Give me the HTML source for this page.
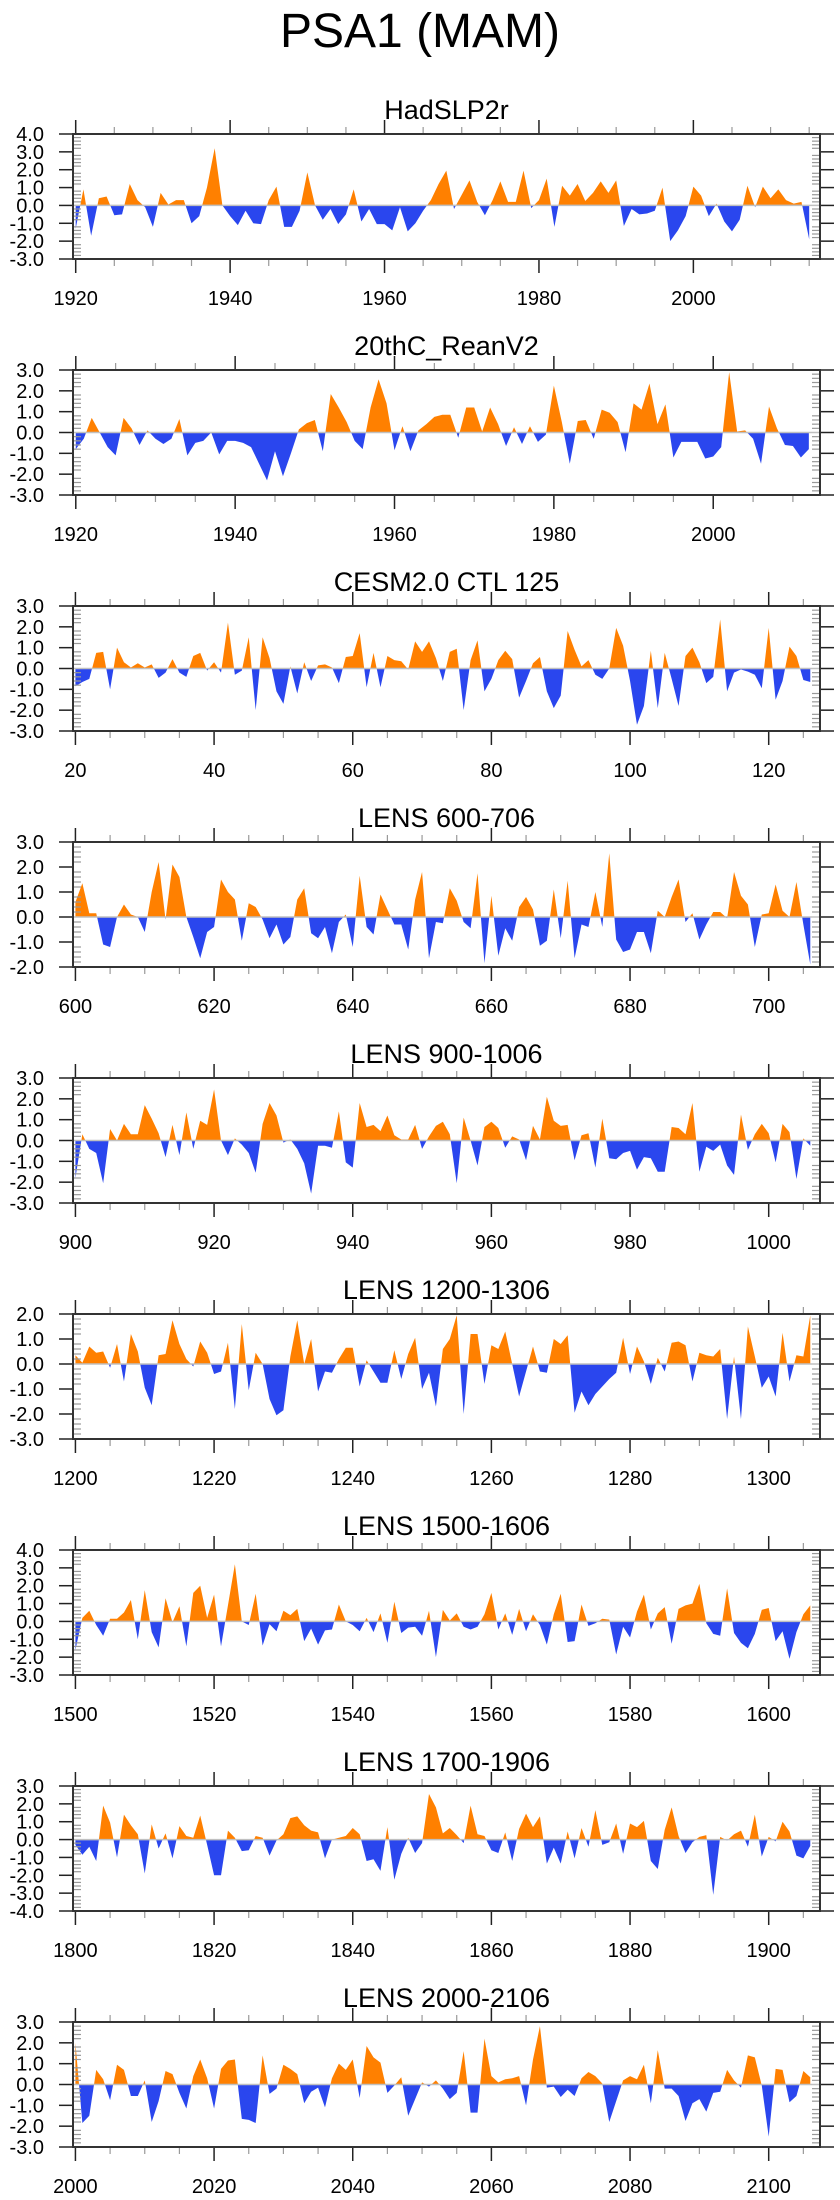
<!DOCTYPE html>
<html><head><meta charset="utf-8"><title>PSA1 (MAM)</title>
<style>
html,body{margin:0;padding:0;background:#fff;}
svg{display:block;font-family:"Liberation Sans",Arial,sans-serif;}
</style></head>
<body>
<svg id="chart" width="840" height="2200" viewBox="0 0 840 2200" xmlns="http://www.w3.org/2000/svg">
<text x="420" y="47" font-size="48" text-anchor="middle" fill="#000">PSA1 (MAM)</text>
</svg>
<script>
const titles = ["HadSLP2r","20thC_ReanV2","CESM2.0 CTL 125","LENS 600-706","LENS 900-1006","LENS 1200-1306","LENS 1500-1606","LENS 1700-1906","LENS 2000-2106"];
const startYears = [1920,1920,20,600,900,1200,1500,1800,2000];
const yMaxs = [4,3,3,3,3,2,4,3,3];
const yMins = [-3,-3,-3,-2,-3,-3,-3,-4,-3];
const xTickLabels = [
 ["1920","1940","1960","1980","2000"],
 ["1920","1940","1960","1980","2000"],
 ["20","40","60","80","100","120"],
 ["600","620","640","660","680","700"],
 ["900","920","940","960","980","1000"],
 ["1200","1220","1240","1260","1280","1300"],
 ["1500","1520","1540","1560","1580","1600"],
 ["1800","1820","1840","1860","1880","1900"],
 ["2000","2020","2040","2060","2080","2100"]];
const s1 = [-1.3,0.9,-1.7,0.4,0.5,-0.55,-0.5,1.2,0.3,-0.1,-1.2,0.7,0.05,0.3,0.3,-1.0,-0.6,1.0,3.2,0.0,-0.6,-1.1,-0.3,-1.0,-1.05,0.3,1.05,-1.2,-1.2,-0.3,1.85,0.0,-0.8,-0.2,-1.05,-0.5,0.9,-0.9,-0.2,-1.05,-1.05,-1.4,-0.1,-1.45,-1.0,-0.3,0.3,1.2,1.95,-0.2,0.6,1.4,0.2,-0.55,0.3,1.35,0.2,0.2,1.95,-0.15,0.3,1.5,-1.2,1.1,0.55,1.2,0.25,0.7,1.35,0.7,1.4,-1.15,-0.2,-0.5,-0.45,-0.3,1.0,-2.0,-1.4,-0.6,1.05,0.55,-0.6,0.1,-0.9,-1.45,-0.8,1.1,-0.1,1.05,0.4,0.9,0.3,0.1,0.2,-1.9];
const s2 = [-0.8,-0.3,0.7,0.0,-0.7,-1.1,0.7,0.2,-0.6,0.1,-0.3,-0.55,-0.3,0.65,-1.1,-0.5,-0.4,0.0,-1.05,-0.4,-0.4,-0.5,-0.7,-1.5,-2.3,-0.9,-2.1,-1.0,0.15,0.45,0.6,-0.9,1.85,1.2,0.5,-0.4,-0.8,1.2,2.55,1.4,-0.85,0.3,-0.9,0.1,0.4,0.75,0.85,0.85,-0.25,1.2,1.2,0.05,1.2,0.4,-0.65,0.25,-0.55,0.3,-0.45,-0.1,2.25,0.5,-1.5,0.55,0.6,-0.3,1.1,0.95,0.5,-0.95,1.4,1.1,2.35,0.4,1.35,-1.2,-0.45,-0.45,-0.45,-1.25,-1.15,-0.7,2.9,0.05,0.1,-0.3,-1.5,1.25,0.2,-0.6,-0.65,-1.2,-0.8];
const s3 = [-0.85,-0.65,-0.5,0.75,0.8,-1.0,1.0,0.3,0.05,0.25,0.05,0.2,-0.45,-0.2,0.45,-0.2,-0.4,0.6,0.75,-0.1,0.3,-0.2,2.2,-0.3,-0.1,1.5,-2.0,1.5,0.5,-1.1,-1.7,0.1,-1.2,0.3,-0.6,0.15,0.2,0.05,-0.7,0.55,0.6,1.7,-0.9,0.75,-0.9,0.6,0.4,0.35,-0.05,1.3,0.8,1.3,0.5,-0.6,0.8,0.95,-2.0,0.4,1.35,-1.1,-0.5,0.4,0.85,0.45,-1.4,-0.6,0.25,0.55,-1.1,-1.9,-1.3,1.8,0.9,0.1,0.4,-0.3,-0.5,0.0,1.95,1.1,-0.6,-2.7,-1.8,0.85,-1.9,0.75,-0.5,-1.8,0.6,1.0,0.3,-0.7,-0.4,2.35,-1.1,-0.2,-0.05,-0.15,-0.3,-0.95,1.95,-1.5,-0.6,1.05,0.6,-0.55,-0.65];
const s4 = [0.6,1.35,0.15,0.15,-1.1,-1.2,0.0,0.5,0.1,0.0,-0.6,1.0,2.2,-0.1,2.1,1.6,0.0,-0.8,-1.65,-0.6,-0.4,1.5,1.0,0.7,-0.95,0.55,0.4,-0.1,-0.85,-0.3,-1.1,-0.8,0.7,1.15,-0.65,-0.85,-0.4,-1.45,-0.2,0.1,-1.2,1.65,-0.4,-0.7,0.9,0.3,-0.3,-0.3,-1.3,0.7,1.8,-1.65,-0.2,-0.25,1.15,0.65,-0.2,-0.45,1.75,-1.85,0.85,-1.55,-0.45,-0.95,0.4,0.8,0.3,-1.15,-0.95,1.1,-0.85,1.45,-1.65,-0.3,-0.4,1.0,-0.4,2.55,-0.9,-1.4,-1.3,-0.6,-0.6,-1.45,0.25,0.0,0.8,1.5,-0.2,0.15,-0.9,-0.3,0.2,0.2,-0.05,1.8,0.85,0.5,-1.2,0.1,0.15,1.3,0.25,0.0,1.4,-0.3,-1.9];
const s5 = [-1.8,0.3,-0.4,-0.6,-2.05,0.55,0.0,0.8,0.3,0.3,1.7,1.05,0.35,-0.8,0.75,-0.7,1.35,-0.4,0.95,0.75,2.45,0.0,-0.7,0.1,-0.2,-0.6,-1.55,0.8,1.8,1.2,-0.1,0.05,-0.4,-1.1,-2.55,-0.25,-0.25,-0.35,1.4,-1.05,-1.3,1.8,0.65,0.75,0.45,1.2,0.25,0.05,0.05,0.75,-0.4,0.2,0.7,0.9,0.3,-2.05,1.1,0.0,-1.2,0.65,0.9,0.6,-0.35,0.2,0.05,-0.95,0.7,0.05,2.1,0.95,0.7,0.75,-0.95,0.25,0.35,-1.3,1.05,-0.85,-0.9,-0.6,-0.5,-1.4,-0.8,-0.85,-1.5,-1.5,0.65,0.6,0.3,1.8,-1.5,-0.3,-0.5,-0.2,-1.2,-1.65,1.25,-0.45,0.3,0.8,0.35,-1.05,0.8,0.4,-1.85,0.1,-0.25];
const s6 = [0.35,0.05,0.7,0.45,0.5,-0.15,0.8,-0.7,1.2,0.5,-0.95,-1.65,0.35,0.4,1.75,0.8,0.2,-0.1,0.9,0.45,-0.4,-0.3,0.85,-1.8,1.6,-1.05,0.45,0.0,-1.4,-2.05,-1.85,0.3,1.75,0.0,1.0,-1.1,-0.3,-0.35,0.2,0.65,0.65,-0.9,0.15,-0.3,-0.75,-0.75,0.55,-0.6,0.4,1.05,-1.0,-0.35,-1.7,0.6,1.0,1.95,-2.0,1.2,1.2,-0.8,0.75,0.6,1.3,0.0,-1.3,-0.3,0.7,-0.3,-0.35,1.0,0.8,1.15,-1.95,-1.1,-1.65,-1.2,-0.9,-0.6,-0.35,1.05,-0.4,0.7,0.1,-0.8,0.25,-0.3,0.85,0.9,0.75,-0.7,0.45,0.35,0.3,0.6,-2.2,0.3,-2.2,1.5,0.3,-0.95,-0.5,-1.3,1.25,-0.7,0.35,0.3,1.95];
const s7 = [-1.6,0.2,0.6,-0.2,-0.8,0.15,0.15,0.5,1.2,-1.0,1.75,-0.6,-1.45,1.3,-0.05,0.85,-1.4,1.6,2.0,0.2,1.5,-1.4,0.9,3.2,0.0,-0.2,1.55,-1.35,-0.15,-0.55,0.6,0.35,0.7,-1.1,-0.4,-1.3,-0.5,-0.45,0.95,0.0,-0.2,-0.55,0.2,-0.6,0.45,-1.2,1.1,-0.65,-0.35,-0.3,-0.8,0.6,-2.0,0.65,0.05,0.45,-0.3,-0.45,-0.3,0.4,1.6,-0.45,0.45,-0.75,0.7,-0.55,0.4,-0.2,-1.3,0.4,1.55,-1.15,-1.1,0.95,-0.25,-0.1,0.15,0.1,-1.85,-0.3,-0.9,0.55,1.5,-0.45,0.45,0.8,-1.25,0.7,0.9,1.0,2.1,-0.1,-0.7,-0.8,1.85,-0.65,-1.2,-1.5,-0.7,0.65,0.75,-1.1,-0.55,-2.1,-0.6,0.4,0.9];
const s8 = [-0.3,-0.85,-0.4,-1.2,1.9,0.95,-1.0,1.4,0.8,0.3,-1.9,0.85,-0.5,0.35,-1.05,0.75,0.2,0.1,1.35,-0.3,-2.0,-2.0,0.5,0.1,-0.65,-0.6,0.2,0.1,-0.9,-0.05,0.3,1.2,1.3,0.8,0.5,0.4,-1.05,0.0,0.1,0.2,0.65,0.3,-1.2,-1.1,-1.75,0.7,-2.25,-0.8,0.1,-0.75,-0.2,2.55,1.8,0.35,0.65,0.25,-0.2,1.9,0.3,0.2,-0.6,-0.75,0.4,-1.2,0.6,1.45,0.7,1.3,-1.35,-0.45,-1.35,0.45,-1.05,0.65,-0.4,1.65,-0.3,-0.15,0.9,-0.8,0.9,0.7,1.05,-1.2,-1.65,0.55,1.8,0.2,-0.75,-0.15,0.15,0.25,-3.1,0.15,-0.05,0.3,0.5,-0.4,1.4,-0.95,0.15,-0.1,1.0,0.45,-0.9,-1.05,-0.35];
const s9 = [2.0,-1.85,-1.5,0.7,0.25,-0.75,0.95,0.7,-0.55,-0.55,0.2,-1.8,-0.8,0.65,0.5,-0.4,-1.15,0.4,1.2,0.3,-1.15,0.75,1.15,1.2,-1.65,-1.7,-1.85,1.4,-0.45,-0.2,0.95,0.75,0.5,-0.9,-0.35,-0.15,-1.1,0.3,1.0,0.7,1.2,-0.65,1.85,1.3,1.05,-0.4,-0.05,0.35,-1.5,-0.7,0.1,-0.1,0.2,-0.2,-0.7,-0.4,1.6,-1.35,-1.35,2.2,0.4,0.1,0.25,0.3,0.4,-1.0,1.2,2.8,-0.15,-0.1,-0.6,-0.25,-0.55,0.3,0.6,0.4,0.05,-1.8,-0.8,0.2,0.4,0.25,0.95,-0.9,1.65,-0.2,-0.2,-0.55,-1.75,-0.9,-0.7,-1.3,-0.4,-0.35,0.7,0.2,-0.15,1.4,1.3,-0.05,-2.5,0.75,0.7,-0.85,-0.55,0.65,0.35];
const seriesList = [s1,s2,s3,s4,s5,s6,s7,s8,s9];

const NS = "http://www.w3.org/2000/svg";
const svg = document.getElementById('chart');
const FL = 73, FR = 820, FH = 125, PITCH = 236, FT0 = 134;
function mk(tag, attrs, parent){ const e=document.createElementNS(NS,tag); for(const k in attrs) e.setAttribute(k,attrs[k]); (parent||svg).appendChild(e); return e; }

seriesList.forEach((vals, p) => {
  const top = FT0 + PITCH*p, bot = top + FH;
  const x0 = startYears[p], n = vals.length;
  const xmin = x0 - 0.35, xmax = x0 + n - 1 + 1.4;
  const ymax = yMaxs[p], ymin = yMins[p];
  const sx = v => FL + (v - xmin) / (xmax - xmin) * (FR - FL);
  const sy = v => top + (ymax - v) / (ymax - ymin) * FH;
  const g = mk('g', {});
  
  
  const t = mk('text', {x: (FL+FR)/2, y: top-15, 'font-size': 27, 'text-anchor': 'middle', fill: '#000'}, g);
  
  
  t.textContent = titles[p];
  const z = sy(0);
  const defs = mk('defs', {}, g);
  const cpA = mk('clipPath', {id: 'ca'+p}, defs);
  mk('rect', {x: FL, y: top, width: FR-FL, height: z-top}, cpA);
  const cpB = mk('clipPath', {id: 'cb'+p}, defs);
  mk('rect', {x: FL, y: z, width: FR-FL, height: bot-z}, cpB);
  let d = 'M' + sx(x0) + ',' + z;
  vals.forEach((v,i) => { d += ' L' + sx(x0+i).toFixed(2) + ',' + sy(v).toFixed(2); });
  d += ' L' + sx(x0+n-1) + ',' + z + ' Z';
  const pa = mk('path', {d: d, fill: '#ff8000', 'clip-path': 'url(#ca'+p+')'}, g);
  
  
  const pb = mk('path', {d: d, fill: '#2a46ee', 'clip-path': 'url(#cb'+p+')'}, g);
  
  
  const zl = mk('line', {x1: FL, x2: FR, y1: z, y2: z, stroke: '#c0c0c0', 'stroke-width': 1.5}, g);
  
  
  // y ticks
  for (let k = Math.round(ymin*5); k <= Math.round(ymax*5); k++) {
    const v = k/5, y = sy(v);
    if (k % 5 === 0) {
      mk('line', {x1: FL-14, x2: FL, y1: y, y2: y, stroke: '#222', 'stroke-width': 1.5}, g);
      mk('line', {x1: FR, x2: FR+14, y1: y, y2: y, stroke: '#222', 'stroke-width': 1.5}, g);
      const lb = mk('text', {x: 44, y: y+7, 'font-size': 20, 'text-anchor': 'end', fill: '#000'}, g);
      
      
      lb.textContent = v.toFixed(1);
    } else {
      mk('line', {x1: FL, x2: FL+8, y1: y, y2: y, stroke: '#999', 'stroke-width': 1.2}, g);
      mk('line', {x1: FR-8, x2: FR, y1: y, y2: y, stroke: '#999', 'stroke-width': 1.2}, g);
    }
  }
  // x ticks
  const first = Math.ceil(xmin/5)*5;
  for (let yr = first; yr <= xmax; yr += 5) {
    const x = sx(yr);
    if (yr % 20 === 0) {
      mk('line', {x1: x, x2: x, y1: top-14, y2: top, stroke: '#222', 'stroke-width': 1.5}, g);
      mk('line', {x1: x, x2: x, y1: bot, y2: bot+14, stroke: '#222', 'stroke-width': 1.5}, g);
    } else {
      mk('line', {x1: x, x2: x, y1: top-7, y2: top, stroke: '#999', 'stroke-width': 1.2}, g);
      mk('line', {x1: x, x2: x, y1: bot, y2: bot+7, stroke: '#999', 'stroke-width': 1.2}, g);
    }
  }
  xTickLabels[p].forEach(s => {
    const lb = mk('text', {x: sx(+s), y: bot+46, 'font-size': 20, 'text-anchor': 'middle', fill: '#000'}, g);
    
    
    lb.textContent = s;
  });
  const fr = mk('rect', {x: FL, y: top, width: FR-FL, height: FH, fill: 'none', stroke: '#333', 'stroke-width': 2}, g);
  
  
});
</script>
</body></html>
